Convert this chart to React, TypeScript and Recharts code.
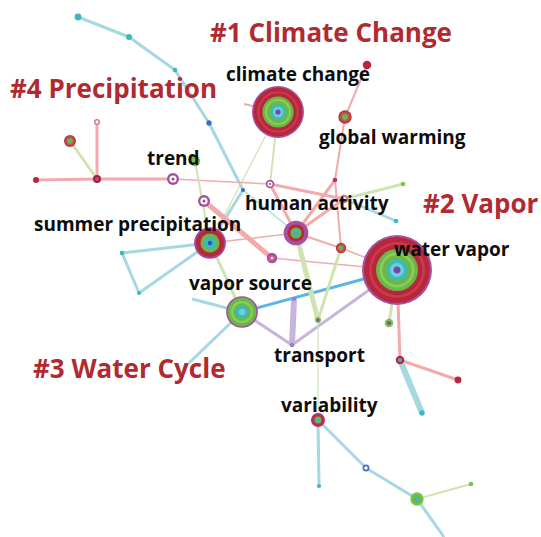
import { ScatterChart, Scatter, XAxis, YAxis } from 'recharts';

type Node = { id: string; x: number; y: number; freq: number; kind: string };

// keyword nodes: layout position + occurrence frequency
const nodes: Node[] = [
  { id: 'a1', x: 78, y: 17, freq: 1.3, kind: 'cyan' },
  { id: 'a2', x: 129, y: 37, freq: 1, kind: 'cyan' },
  { id: 'a3', x: 175, y: 70, freq: 0.6, kind: 'cyan' },
  { id: 'a4', x: 209, y: 123, freq: 0.8, kind: 'blue' },
  { id: 'a5', x: 243, y: 190, freq: 0.5, kind: 'blue' },
  { id: 'cc0', x: 244, y: 104, freq: 0.3, kind: 'none' },
  { id: 'gwTop', x: 367, y: 65, freq: 2, kind: 'red' },
  { id: 'gw', x: 345, y: 117, freq: 5, kind: 'redGreen' },
  { id: 'trend', x: 195, y: 161, freq: 3, kind: 'green' },
  { id: 'p1', x: 173, y: 179, freq: 4, kind: 'magRing' },
  { id: 'p2', x: 97, y: 179, freq: 1.8, kind: 'darkRed' },
  { id: 'p3', x: 36, y: 180, freq: 1, kind: 'red' },
  { id: 'p4', x: 70, y: 141, freq: 4, kind: 'redGreen' },
  { id: 'p5', x: 97, y: 122, freq: 1, kind: 'pinkRing' },
  { id: 'ha1', x: 270, y: 184, freq: 2, kind: 'magRing' },
  { id: 'hb', x: 335, y: 180, freq: 0.6, kind: 'mag' },
  { id: 'hc', x: 403, y: 184, freq: 0.6, kind: 'green' },
  { id: 'hd', x: 344, y: 199, freq: 2, kind: 'pinkRing' },
  { id: 'he', x: 396, y: 221, freq: 0.6, kind: 'cyan' },
  { id: 'hf', x: 341, y: 248, freq: 3, kind: 'redGreen' },
  { id: 'sp0', x: 204, y: 201, freq: 4, kind: 'magRing' },
  { id: 'sp1', x: 272, y: 258, freq: 3, kind: 'magPink' },
  { id: 't1', x: 122, y: 253, freq: 0.6, kind: 'cyan' },
  { id: 't2', x: 139, y: 293, freq: 0.5, kind: 'cyan' },
  { id: 'vs1', x: 192, y: 299, freq: 0.3, kind: 'none' },
  { id: 'vs2', x: 189, y: 363, freq: 0.3, kind: 'none' },
  { id: 'tr1', x: 294, y: 299, freq: 0.5, kind: 'purple' },
  { id: 'tr2', x: 318, y: 320, freq: 1, kind: 'greenPurple' },
  { id: 'tr', x: 292, y: 345, freq: 0.6, kind: 'purple' },
  { id: 'wv1', x: 389, y: 323, freq: 2, kind: 'greenPurple' },
  { id: 'wv2', x: 400, y: 360, freq: 2, kind: 'redCyan' },
  { id: 'wv3', x: 458, y: 380, freq: 1.3, kind: 'red' },
  { id: 'wv4', x: 422, y: 413, freq: 0.8, kind: 'cyan' },
  { id: 'va1', x: 319, y: 486, freq: 0.5, kind: 'cyan' },
  { id: 'va2', x: 366, y: 468, freq: 1.3, kind: 'blueRing' },
  { id: 'va3', x: 417, y: 499, freq: 5, kind: 'greenCyan' },
  { id: 'va4', x: 471, y: 484, freq: 0.6, kind: 'green' },
  { id: 'va5', x: 444, y: 537, freq: 0.3, kind: 'none' },
  { id: 'va', x: 318, y: 420, freq: 5.5, kind: 'va' },
  { id: 'ha', x: 296, y: 233, freq: 17, kind: 'ha' },
  { id: 'sp', x: 210, y: 243, freq: 28, kind: 'sp' },
  { id: 'vs', x: 242, y: 312, freq: 28, kind: 'vs' },
  { id: 'cc', x: 278, y: 112, freq: 75, kind: 'big' },
  { id: 'wv', x: 397, y: 270, freq: 136, kind: 'big' },
];

// co-occurrence links: from, to, cluster colour group, strength
const edges: [string, string, string, number][] = [
  ['a1', 'a2', 'c', 3], ['a2', 'a3', 'c', 3], ['a3', 'a4', 'c', 3], ['a4', 'a5', 'c', 3],
  ['a5', 'sp', 'c', 3], ['a5', 'ha', 'c', 1.2],
  ['cc0', 'cc', 'p', 2], ['cc', 'sp', 'g', 1.2], ['cc', 'ha1', 'g', 2],
  ['gwTop', 'gw', 'p', 2], ['gw', 'hb', 'p', 2], ['hb', 'ha', 'p', 3], ['hb', 'hf', 'p', 2],
  ['ha1', 'ha', 'p', 3], ['ha1', 'hd', 'p', 3], ['ha', 'hd', 'p', 3],
  ['hd', 'hc', 'g', 3], ['hd', 'he', 'c', 2.5],
  ['p3', 'p2', 'p', 3], ['p2', 'p1', 'p', 3], ['p2', 'p5', 'p', 3], ['p2', 'p4', 'g', 3],
  ['p1', 'ha1', 'p', 1.5],
  ['trend', 'sp', 'g', 2], ['sp', 'vs', 'g', 3], ['sp', 'ha', 'p', 1.5],
  ['sp0', 'sp1', 'p', 5], ['sp1', 'wv', 'p', 1.5],
  ['sp', 't1', 'c', 3], ['t1', 't2', 'c', 3], ['t2', 'sp', 'c', 3],
  ['vs', 'vs1', 'c', 3], ['vs', 'vs2', 'c', 3], ['vs', 'wv', 'b', 3],
  ['vs', 'tr', 'u', 3], ['tr', 'tr1', 'u', 6], ['tr', 'wv', 'u', 3],
  ['ha', 'tr2', 'g', 5], ['hf', 'tr2', 'g', 3], ['tr2', 'va', 'g', 1.2],
  ['ha', 'hf', 'p', 2], ['hf', 'wv', 'p', 1.5],
  ['wv', 'wv1', 'g', 3], ['wv', 'wv2', 'p', 3], ['wv2', 'wv3', 'p', 3], ['wv2', 'wv4', 'c', 6],
  ['va', 'va1', 'c', 3], ['va', 'va2', 'c', 3], ['va2', 'va3', 'c', 3],
  ['va3', 'va4', 'g', 2], ['va3', 'va5', 'c', 3],
];

const keywordLabels = [
  { text: 'climate change', x: 226, y: 81 },
  { text: 'global warming', x: 319, y: 144 },
  { text: 'trend', x: 147, y: 165 },
  { text: 'human activity', x: 245, y: 210 },
  { text: 'summer precipitation', x: 34, y: 231 },
  { text: 'water vapor', x: 394, y: 256 },
  { text: 'vapor source', x: 189, y: 290 },
  { text: 'transport', x: 274, y: 362 },
  { text: 'variability', x: 281, y: 412 },
];

const clusterLabels = [
  { text: '#1 Climate Change', x: 210, y: 42 },
  { text: '#4 Precipitation', x: 10, y: 98 },
  { text: '#2 Vapor', x: 423, y: 213 },
  { text: '#3 Water Cycle', x: 33, y: 378 },
];

const nodeById: Record<string, Node> = Object.fromEntries(nodes.map((n) => [n.id, n]));

const edgeColors: Record<string, string> = {
  c: '#a6d8e2',
  p: '#f3aaaa',
  g: '#cfe4b0',
  b: '#5cb3e6',
  u: '#c9b4dc',
};

const rings: Record<string, [string, number][]> = {
  big: [['#a3529f', 1], ['#b8263c', 0.94], ['#c93a4c', 0.8], ['#b8263c', 0.72], ['#6ab845', 0.6], ['#8ccc5c', 0.5], ['#6ab845', 0.42], ['#3cb8c0', 0.3], ['#6fd0d0', 0.2], ['#7048b0', 0.1]],
  sp: [['#9e4c9a', 1], ['#b8263c', 0.88], ['#6ab845', 0.6], ['#3cb8c0', 0.38], ['#4050b0', 0.14]],
  vs: [['#a3529f', 1], ['#6ab845', 0.9], ['#8ccc5c', 0.7], ['#6ab845', 0.55], ['#3cb8c0', 0.4], ['#6fd0d0', 0.2]],
  ha: [['#a3529f', 1], ['#b8263c', 0.68], ['#6ab845', 0.45], ['#3cb8c0', 0.25]],
  va: [['#b0307a', 1], ['#c02848', 0.75], ['#6ab845', 0.5], ['#3cb8c0', 0.25]],
  redGreen: [['#b8363c', 1], ['#c0505a', 0.75], ['#6ab845', 0.45]],
  magRing: [['#a3529f', 1], ['#ffffff', 0.6], ['#c04060', 0.25]],
  pinkRing: [['#d0707a', 1], ['#ffffff', 0.55]],
  magPink: [['#a3529f', 1], ['#e07080', 0.5], ['#ffffff', 0.2]],
  mag: [['#b0307a', 1]],
  green: [['#7cc24e', 1]],
  red: [['#b8263c', 1]],
  darkRed: [['#9c2040', 1], ['#c04870', 0.5]],
  cyan: [['#3cb8c0', 1]],
  blue: [['#3a6ec0', 1]],
  purple: [['#9a80c8', 1]],
  greenPurple: [['#7cc24e', 1], ['#8050a0', 0.5]],
  redCyan: [['#b8263c', 1], ['#3cb8c0', 0.5]],
  blueRing: [['#4a6cc0', 1], ['#ffffff', 0.5]],
  greenCyan: [['#7cc24e', 1], ['#6ab845', 0.7], ['#3cb8c0', 0.35]],
  none: [],
};

const radius = (freq: number) => 3 * Math.sqrt(freq);

function NodeShape(props: any) {
  const { cx, cy, payload } = props;
  const r = radius(payload.freq);
  const layers = rings[payload.kind] || [];
  return (
    <g>
      {layers.map(([color, f], i) => (
        <circle key={i} cx={cx} cy={cy} r={r * f} fill={color} />
      ))}
    </g>
  );
}

function KeywordText(props: any) {
  const { cx, cy, payload } = props;
  return (
    <text x={cx} y={cy} fontFamily="'Open Sans', sans-serif" fontWeight={700} fontSize={19} fill="#0d0d0d">
      {payload.text}
    </text>
  );
}

function ClusterText(props: any) {
  const { cx, cy, payload } = props;
  return (
    <text x={cx} y={cy} fontFamily="'Open Sans', sans-serif" fontWeight={700} fontSize={26} fill="#b02a30">
      {payload.text}
    </text>
  );
}

const noDot = () => <g />;

export default function App() {
  return (
    <div style={{ position: 'absolute', left: 0, top: 0, width: 541, height: 537, background: '#fff' }}>
      <ScatterChart width={541} height={537} margin={{ top: 0, right: 0, bottom: 0, left: 0 }}>
        <XAxis type="number" dataKey="x" domain={[0, 541]} hide allowDataOverflow />
        <YAxis type="number" dataKey="y" domain={[0, 537]} reversed hide allowDataOverflow />
        {edges.map(([from, to, group, w], i) => (
          <Scatter
            key={`e${i}`}
            data={[nodeById[from], nodeById[to]]}
            fill={edgeColors[group]}
            line={{ stroke: edgeColors[group], strokeWidth: w }}
            shape={noDot}
            legendType="none"
            isAnimationActive={false}
          />
        ))}
        <Scatter data={nodes} shape={NodeShape} isAnimationActive={false} />
        <Scatter data={keywordLabels} shape={KeywordText} isAnimationActive={false} />
        <Scatter data={clusterLabels} shape={ClusterText} isAnimationActive={false} />
      </ScatterChart>
    </div>
  );
}
